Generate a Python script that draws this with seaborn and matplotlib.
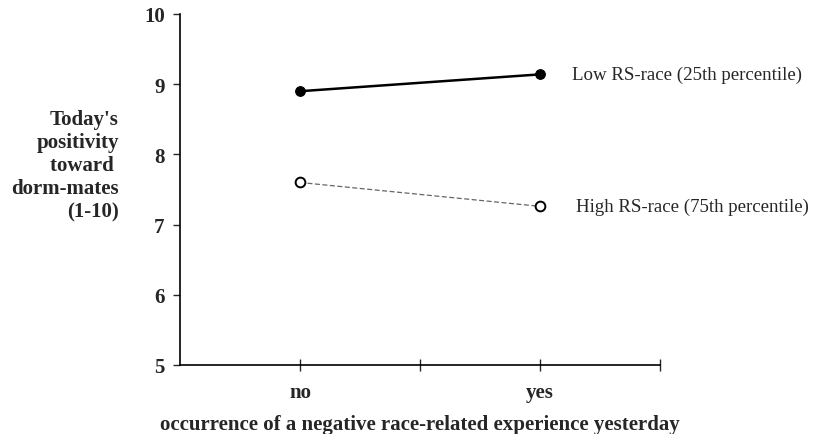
import pandas as pd
import matplotlib.pyplot as plt
import seaborn as sns

# valores
experiencia = ['no', 'yes']
low_rs = [8.9, 9.14]
high_rs = [7.6, 7.26]
grupos = ['Low RS-race (25th percentile)', 'High RS-race (75th percentile)']

df = pd.DataFrame({
    'exp': experiencia * 2,
    'pos': [1, 3] * 2,
    'valor': low_rs + high_rs,
    'grupo': [grupos[0]] * 2 + [grupos[1]] * 2,
})

sns.set_style('white')
plt.rcParams['font.family'] = ['Liberation Serif', 'DejaVu Serif']

fig = plt.figure(figsize=(8.14, 4.35), dpi=100)
ax = fig.add_axes([180 / 814, 1 - 366 / 435, 480 / 814, 351 / 435])

d_low = df[df['grupo'] == grupos[0]]
d_high = df[df['grupo'] == grupos[1]]
sns.lineplot(data=d_low, x='pos', y='valor', ax=ax, color='black', lw=1.8,
             marker='o', markersize=7, markerfacecolor='black', markeredgecolor='black')
sns.lineplot(data=d_high, x='pos', y='valor', ax=ax, color='#666666', lw=0.9,
             linestyle=(0, (4, 2)), marker='o', markersize=7,
             markerfacecolor='white', markeredgecolor='black', markeredgewidth=1.4)

# rótulos das linhas
ax.text(3.27, low_rs[1], grupos[0], fontsize=13.6, va='center', ha='left', clip_on=False)
ax.text(3.3, high_rs[1], grupos[1], fontsize=13.6, va='center', ha='left', clip_on=False)

ax.set_xlim(0, 4)
ax.set_ylim(5, 10)
ax.set_xticks([1, 2, 3, 4])
ax.set_xticklabels(['no', '', 'yes', ''], fontsize=15, fontweight='bold')
ax.set_yticks([5, 6, 7, 8, 9, 10])
ax.set_yticklabels(['5', '6', '7', '8', '9', '10'], fontsize=15, fontweight='bold')
ax.tick_params(axis='x', direction='inout', length=8, width=1, pad=8)
ax.tick_params(axis='y', direction='out', length=5, width=1, pad=6, left=True)
ax.tick_params(axis='x', bottom=True)

for s in ['top', 'right']:
    ax.spines[s].set_visible(False)
for s in ['left', 'bottom']:
    ax.spines[s].set_color('black')
    ax.spines[s].set_linewidth(1.2)

ax.set_xlabel('occurrence of a negative race-related experience yesterday',
              fontsize=15, fontweight='bold', labelpad=9)
ax.set_ylabel('')
fig.text(119 / 814, 1 - 166 / 435, "Today's\npositivity\ntoward \ndorm-mates\n(1-10)",
         ha='right', va='center', fontsize=15, fontweight='bold', linespacing=1.2)

fig.savefig('out.png', dpi=100)
